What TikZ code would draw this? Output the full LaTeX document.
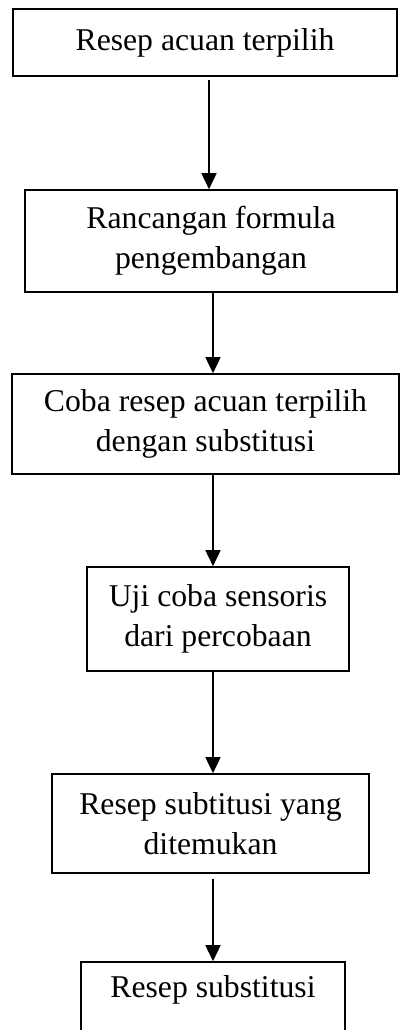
\documentclass[tikz,border=0pt]{standalone}
\usepackage{fontspec}
\setmainfont{Liberation Serif}
\usetikzlibrary{arrows.meta}
\begin{document}
\begin{tikzpicture}[x=1pt,y=-1pt,
  stepbox/.style={draw=black, line width=1.6pt, inner sep=0pt, align=center,
    font=\fontsize{31.7}{40}\selectfont},
  flow/.style={line width=1.6pt, -{Triangle[width=15pt,length=16pt]}}]
  \clip (0,0) rectangle (400,1030);
  \fill[white] (0,0) rectangle (400,1030);

  \node[stepbox, minimum width=384pt, minimum height=67pt]  (b1) at (205,42.5) {Resep acuan terpilih};
  \node[stepbox, minimum width=372pt, minimum height=102pt] (b2) at (211,241) {Rancangan formula\\pengembangan};
  \node[stepbox, minimum width=387pt, minimum height=100pt] (b3) at (205.5,424) {Coba resep acuan terpilih\\dengan substitusi};
  \node[stepbox, minimum width=262pt, minimum height=104pt] (b4) at (218,619) {Uji coba sensoris\\dari percobaan};
  \node[stepbox, minimum width=317pt, minimum height=99pt]  (b5) at (210.5,823.5) {Resep subtitusi yang\\ditemukan};
  \node[stepbox, minimum width=264pt, minimum height=100pt] (b6) at (213,1012) {Resep substitusi\\\strut};

  \coordinate (c1) at (209,0);
  \coordinate (c2) at (213,0);
  \draw[flow, shorten <=3pt] (b1.south -| c1) -- (b2.north -| c1);
  \draw[flow] (b2.south -| c2) -- (b3.north -| c2);
  \draw[flow] (b3.south -| c2) -- (b4.north -| c2);
  \draw[flow] (b4.south -| c2) -- (b5.north -| c2);
  \draw[flow, shorten <=5pt] (b5.south -| c2) -- (b6.north -| c2);
\end{tikzpicture}
\end{document}
